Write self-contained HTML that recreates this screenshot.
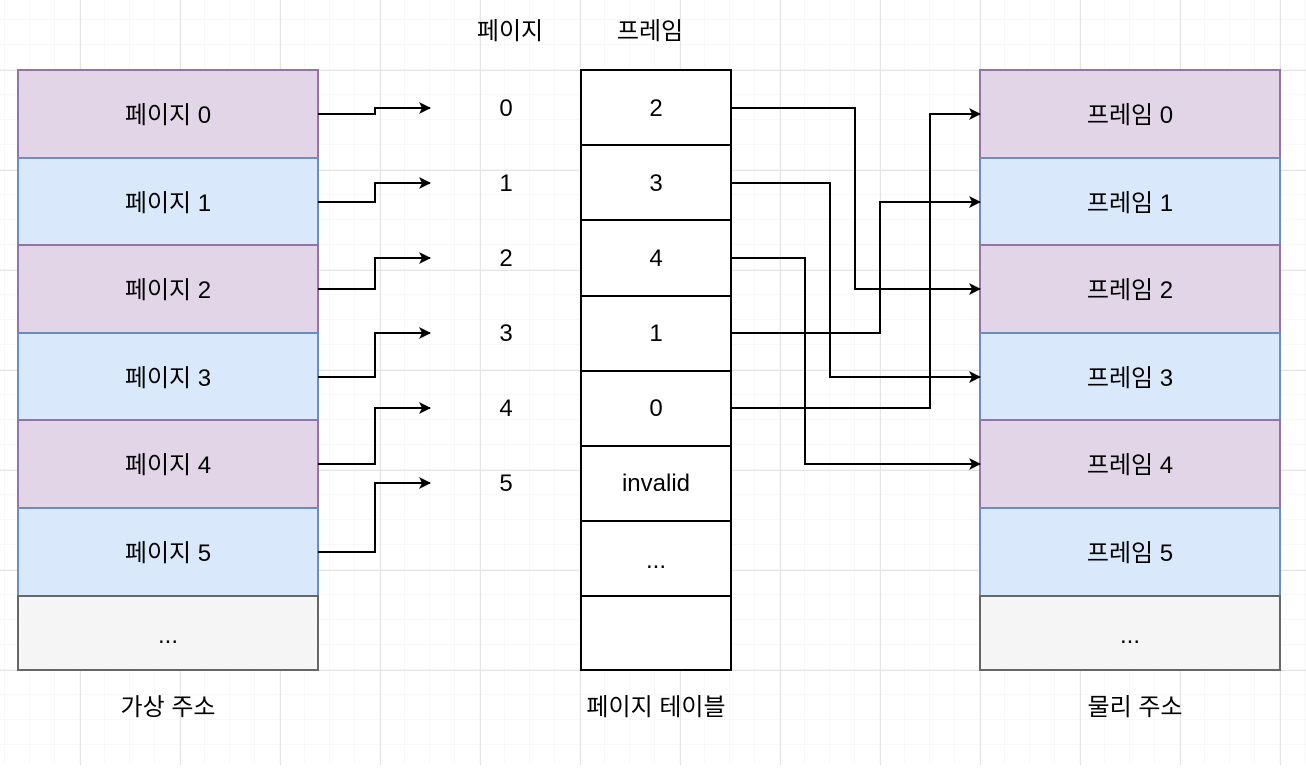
<!DOCTYPE html>
<html><head><meta charset="utf-8"><style>
html,body{margin:0;padding:0;background:#fff}
svg text{font-family:"Liberation Sans","Noto Sans CJK KR","NanumGothic",sans-serif;font-size:24px;fill:#000}
</style></head><body>
<svg width="1306" height="765" xmlns="http://www.w3.org/2000/svg">
<defs>
<pattern id="mi" width="25" height="25" patternUnits="userSpaceOnUse" x="5" y="20"><path d="M25 0V25M0 25H25" fill="none" stroke="#f2f2f2" stroke-width="1"/></pattern>
<pattern id="ma" width="100" height="100" patternUnits="userSpaceOnUse" x="80" y="70"><path d="M0.5 0V100M0 0.5H100" fill="none" stroke="#e4e4e4" stroke-width="1"/></pattern>
<marker id="ar" markerWidth="12" markerHeight="12" refX="11" refY="6" orient="auto" markerUnits="userSpaceOnUse" viewBox="0 0 12 12"><path d="M0 0L12 6L0 12L3 6Z" fill="#000"/></marker>
</defs>
<rect width="1306" height="765" fill="url(#mi)"/>
<rect width="1306" height="765" fill="url(#ma)"/>
<g stroke-width="2">
<rect x="18" y="70" width="300" height="88" fill="#e1d5e7" stroke="#9673a6"/>
<rect x="18" y="158" width="300" height="87" fill="#dae8fc" stroke="#6c8ebf"/>
<rect x="18" y="245" width="300" height="88" fill="#e1d5e7" stroke="#9673a6"/>
<rect x="18" y="333" width="300" height="87" fill="#dae8fc" stroke="#6c8ebf"/>
<rect x="18" y="420" width="300" height="88" fill="#e1d5e7" stroke="#9673a6"/>
<rect x="18" y="508" width="300" height="88" fill="#dae8fc" stroke="#6c8ebf"/>
<rect x="18" y="596" width="300" height="74" fill="#f5f5f5" stroke="#666"/>
<rect x="980" y="70" width="300" height="88" fill="#e1d5e7" stroke="#9673a6"/>
<rect x="980" y="158" width="300" height="87" fill="#dae8fc" stroke="#6c8ebf"/>
<rect x="980" y="245" width="300" height="88" fill="#e1d5e7" stroke="#9673a6"/>
<rect x="980" y="333" width="300" height="87" fill="#dae8fc" stroke="#6c8ebf"/>
<rect x="980" y="420" width="300" height="88" fill="#e1d5e7" stroke="#9673a6"/>
<rect x="980" y="508" width="300" height="88" fill="#dae8fc" stroke="#6c8ebf"/>
<rect x="980" y="596" width="300" height="74" fill="#f5f5f5" stroke="#666"/>
<g fill="#fff" stroke="#000">
<rect x="581" y="70" width="150" height="75"/>
<rect x="581" y="145" width="150" height="75"/>
<rect x="581" y="220" width="150" height="76"/>
<rect x="581" y="296" width="150" height="75"/>
<rect x="581" y="371" width="150" height="75"/>
<rect x="581" y="446" width="150" height="75"/>
<rect x="581" y="521" width="150" height="75"/>
<rect x="581" y="596" width="150" height="74"/>
</g>
</g>
<g fill="none" stroke="#000" stroke-width="2" marker-end="url(#ar)">
<path d="M318 114H375V108H430"/>
<path d="M318 202H375V183H430"/>
<path d="M318 289H375V258H430"/>
<path d="M318 377H375V333H430"/>
<path d="M318 464H375V408H430"/>
<path d="M318 552H375V483H430"/>
<path d="M731 108H855V289H980"/>
<path d="M731 183H830V377H980"/>
<path d="M731 258H805V464H980"/>
<path d="M731 333H880V202H980"/>
<path d="M731 408H930V114H980"/>
</g>
<g text-anchor="middle">
<text x="168" y="123">페이지 0</text>
<text x="168" y="211">페이지 1</text>
<text x="168" y="298">페이지 2</text>
<text x="168" y="386">페이지 3</text>
<text x="168" y="473">페이지 4</text>
<text x="168" y="561">페이지 5</text>
<text x="168" y="643">...</text>
<text x="1130" y="123">프레임 0</text>
<text x="1130" y="211">프레임 1</text>
<text x="1130" y="298">프레임 2</text>
<text x="1130" y="386">프레임 3</text>
<text x="1130" y="473">프레임 4</text>
<text x="1130" y="561">프레임 5</text>
<text x="1130" y="643">...</text>
<text x="656" y="116">2</text>
<text x="656" y="191">3</text>
<text x="656" y="266">4</text>
<text x="656" y="341">1</text>
<text x="656" y="416">0</text>
<text x="656" y="491">invalid</text>
<text x="656" y="568">...</text>
<text x="506" y="116">0</text>
<text x="506" y="191">1</text>
<text x="506" y="266">2</text>
<text x="506" y="341">3</text>
<text x="506" y="416">4</text>
<text x="506" y="491">5</text>
<text x="510" y="39">페이지</text>
<text x="650" y="39">프레임</text>
<text x="168" y="715">가상 주소</text>
<text x="656" y="715">페이지 테이블</text>
<text x="1135" y="715">물리 주소</text>
</g>
</svg>
</body></html>
